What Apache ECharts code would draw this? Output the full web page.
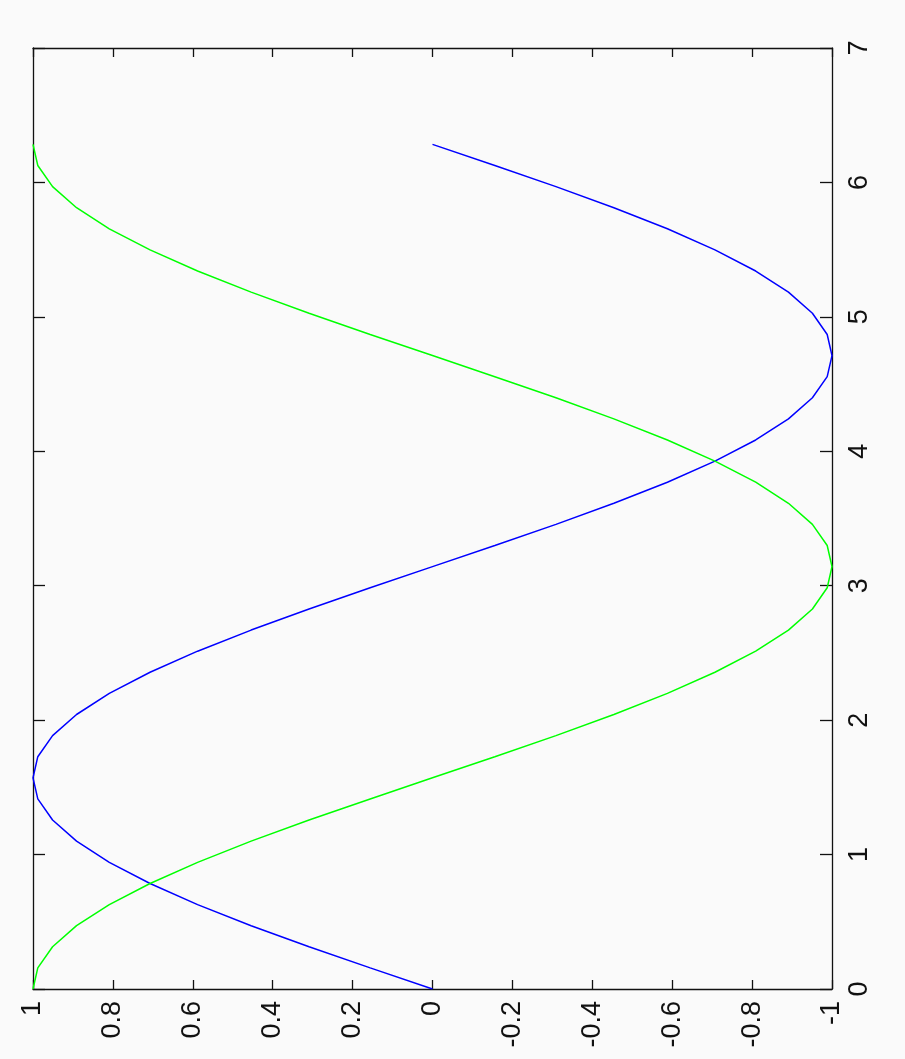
<!DOCTYPE html>
<html>
<head>
<meta charset="utf-8">
<script src="https://cdn.jsdelivr.net/npm/echarts@6/dist/echarts.min.js"></script>
<style>
html,body{margin:0;padding:0;background:#fafafa;}
#chart{width:905px;height:1059px;}
</style>
</head>
<body>
<div id="chart"></div>
<script>
// sample positions (0 .. 2*pi)
var xs = [0, 0.157, 0.314, 0.471, 0.628, 0.785, 0.942, 1.100, 1.257, 1.414, 1.571,
  1.728, 1.885, 2.042, 2.199, 2.356, 2.513, 2.670, 2.827, 2.985, 3.142,
  3.299, 3.456, 3.613, 3.770, 3.927, 4.084, 4.241, 4.398, 4.555, 4.712,
  4.869, 5.027, 5.184, 5.341, 5.498, 5.655, 5.812, 5.969, 6.126, 6.283];
// blue curve values
var blueVals = [0, 0.156, 0.309, 0.454, 0.588, 0.707, 0.809, 0.891, 0.951, 0.988, 1,
  0.988, 0.951, 0.891, 0.809, 0.707, 0.588, 0.454, 0.309, 0.156, 0,
  -0.156, -0.309, -0.454, -0.588, -0.707, -0.809, -0.891, -0.951, -0.988, -1,
  -0.988, -0.951, -0.891, -0.809, -0.707, -0.588, -0.454, -0.309, -0.156, 0];
// green curve values
var greenVals = [1, 0.988, 0.951, 0.891, 0.809, 0.707, 0.588, 0.454, 0.309, 0.156, 0,
  -0.156, -0.309, -0.454, -0.588, -0.707, -0.809, -0.891, -0.951, -0.988, -1,
  -0.988, -0.951, -0.891, -0.809, -0.707, -0.588, -0.454, -0.309, -0.156, 0,
  0.156, 0.309, 0.454, 0.588, 0.707, 0.809, 0.891, 0.951, 0.988, 1];
var valueTicks = {min: -1, max: 1, interval: 0.2};
var posTicks = {min: 0, max: 7, interval: 1};

function pairs(vals) {
  return vals.map(function (v, i) { return [v, xs[i]]; });
}

var chart = echarts.init(document.getElementById('chart'), null, {renderer: 'canvas'});
var lineStyleAxis = {color: '#111', width: 1.3};
var labelFont = {fontFamily: '"Liberation Sans Narrow", "Liberation Sans", Arial, sans-serif', fontSize: 27, color: '#111'};

function axisLine() { return {show: true, onZero: false, lineStyle: lineStyleAxis}; }

chart.setOption({
  backgroundColor: '#fafafa',
  animation: false,
  grid: {left: 33, right: 73, top: 48, bottom: 70, containLabel: false},
  xAxis: [{
    type: 'value', min: valueTicks.min, max: valueTicks.max, interval: valueTicks.interval,
    inverse: true, position: 'bottom',
    axisLine: axisLine(),
    axisTick: {show: true, inside: true, length: 9, lineStyle: lineStyleAxis},
    splitLine: {show: false},
    axisLabel: Object.assign({rotate: 90, margin: 12, showMinLabel: true, showMaxLabel: true}, labelFont)
  }, {
    type: 'value', min: valueTicks.min, max: valueTicks.max, interval: valueTicks.interval,
    inverse: true, position: 'top',
    axisLine: axisLine(),
    axisTick: {show: true, inside: true, length: 9, lineStyle: lineStyleAxis},
    splitLine: {show: false},
    axisLabel: {show: false}
  }],
  yAxis: [{
    type: 'value', min: posTicks.min, max: posTicks.max, interval: posTicks.interval,
    position: 'right',
    axisLine: axisLine(),
    axisTick: {show: true, inside: true, length: 12, lineStyle: lineStyleAxis},
    splitLine: {show: false},
    axisLabel: Object.assign({rotate: 90, margin: 14, align: 'center', verticalAlign: 'top', showMinLabel: true, showMaxLabel: true}, labelFont)
  }, {
    type: 'value', min: posTicks.min, max: posTicks.max, interval: posTicks.interval,
    position: 'left',
    axisLine: axisLine(),
    axisTick: {show: true, inside: true, length: 12, lineStyle: lineStyleAxis},
    splitLine: {show: false},
    axisLabel: {show: false}
  }],
  series: [{
    type: 'line', xAxisIndex: 0, yAxisIndex: 0,
    data: pairs(blueVals), showSymbol: false, smooth: false,
    lineStyle: {color: '#0000ff', width: 1.5}, itemStyle: {color: '#0000ff'}
  }, {
    type: 'line', xAxisIndex: 0, yAxisIndex: 0,
    data: pairs(greenVals), showSymbol: false, smooth: false,
    lineStyle: {color: '#00ff00', width: 1.5}, itemStyle: {color: '#00ff00'}
  }]
});
</script>
</body>
</html>
